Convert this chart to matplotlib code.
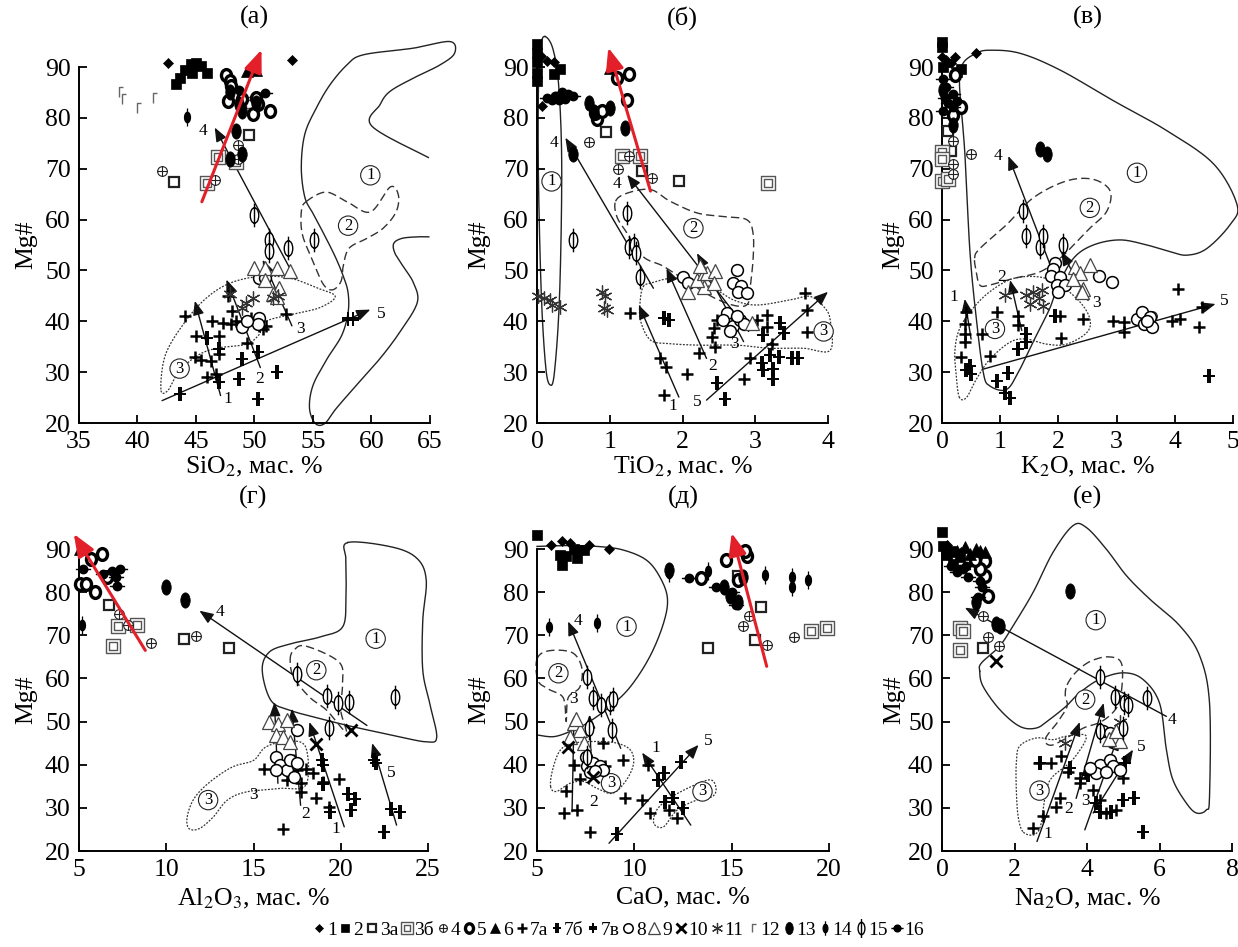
import numpy as np
import matplotlib
matplotlib.use("Agg")
import matplotlib.pyplot as plt
from matplotlib.path import Path
from matplotlib.patches import FancyArrowPatch
from matplotlib.lines import Line2D
import matplotlib.transforms as mtransforms

plt.rcParams['font.family'] = ['Liberation Serif', 'DejaVu Serif']
plt.rcParams['mathtext.fontset'] = 'stix'

# ---------------------------------------------------------------- data
# (а) SiO2 - Mg#
PTS_SIO2 = {
    '1': [(42.6, 90.7), (53.2, 91.4)],
    '2': [(43.3, 86.6), (43.6, 87.9), (44.1, 89.5), (44.6, 90.5), (45.0, 90.8), (45.4, 90.2), (45.9, 88.9), (44.7, 88.9)],
    '12': [(38.4, 85.0), (38.7, 83.7), (40.0, 82.0), (41.3, 84.0)],
    '5': [(47.6, 88.5), (47.9, 87.3), (47.7, 83.3), (48.9, 83.7), (50.3, 82.7), (51.3, 81.4), (49.9, 80.7), (50.1, 84.0), (48.0, 86.3)],
    '6': [(49.4, 89.2), (50.1, 89.5)],
    '16': [(50.9, 84.8), (48.7, 85.5)],
    '13': [(48.4, 77.5), (47.9, 72.0), (48.9, 72.9), (48.7, 82.7), (48.9, 81.4), (47.9, 85.0), (50.1, 83.0)],
    '14': [(44.2, 80.1)],
    '3а': [(49.5, 76.6), (43.1, 67.3)],
    '3б': [(46.9, 72.3), (45.9, 67.1), (48.4, 71.3), (49.6, 82.7)],
    '4': [(42.1, 69.5), (48.6, 74.7), (46.6, 67.7), (48.6, 72.0)],
    '15': [(50.0, 60.9), (51.2, 56.0), (51.2, 53.9), (52.9, 54.4), (55.1, 56.0)],
    '9': [(50.0, 50.5), (50.9, 50.5), (51.9, 50.5), (53.0, 49.8), (52.1, 46.6), (51.6, 45.3), (51.9, 44.8), (50.9, 48.2)],
    '8': [(50.4, 48.5), (50.9, 48.5), (50.4, 40.7), (48.9, 38.8), (50.3, 39.4), (49.4, 40.1)],
    '11': [(47.9, 45.3), (48.9, 42.7), (49.9, 44.6), (49.3, 43.6), (51.6, 44.6), (52.0, 44.9)],
    '7а': [(44.1, 41.0), (45.0, 37.1), (46.4, 40.0), (47.3, 39.7), (47.0, 37.1), (48.0, 39.4), (44.9, 32.9), (45.4, 32.3),
           (46.3, 32.2), (46.7, 29.6), (47.0, 33.5), (45.9, 29.0), (49.4, 35.8), (49.7, 40.7), (50.4, 39.1), (50.7, 38.5),
           (51.0, 39.1), (48.4, 40.1), (47.7, 45.0), (48.1, 42.0), (52.7, 41.4)],
    '7б': [(48.9, 32.6), (48.7, 28.7), (50.3, 33.9), (51.9, 30.0), (50.3, 24.8), (43.6, 25.7), (47.0, 28.0), (45.9, 36.8), (47.0, 34.5)],
    '7в': [(58.0, 40.4), (58.4, 40.4)],
}
TR_SIO2 = [(47.1, 25.4, 44.9, 44.0), (50.5, 30.9, 47.6, 48.2), (53.2, 39.1, 50.7, 52.1),
           (53.0, 50.5, 46.6, 78.1), (42.1, 24.4, 59.9, 42.3)]
TRL_SIO2 = [('1', 47.7, 24.8), ('2', 50.4, 28.7), ('3', 53.9, 38.5), ('4', 45.6, 77.5), ('5', 60.8, 41.4)]
RED_SIO2 = (45.5, 63.5, 50.6, 93.4)
F1_SIO2 = [(64.86, 72.2), (60.02, 78.4), (60.73, 82.6), (61.58, 85.2), (63.57, 87.8), (65.85, 90.4), (67.1, 92.7),
           (66.7, 95.0), (63.57, 93.7), (59.3, 92.4), (57.9, 90.4), (56.45, 86.5), (55.3, 82.0), (54.3, 76.8),
           (54.0, 70.3), (54.3, 64.4), (55.0, 61.2), (55.9, 57.3), (56.9, 52.7), (57.6, 48.8), (58.0, 45.6),
           (58.0, 41.7), (57.45, 37.2), (56.2, 32.6), (55.0, 27.4), (54.7, 22.9), (55.2, 19.9), (56.0, 19.9),
           (57.0, 22.9), (58.7, 27.4), (60.7, 32.6), (62.4, 37.8), (63.9, 43.6), (63.6, 47.5), (62.7, 50.8),
           (62.0, 53.4), (61.9, 55.3), (62.6, 56.3), (63.9, 56.6), (64.9, 56.6)]
F2_SIO2 = [(54.4, 63.5), (56.1, 65.4), (57.9, 63.5), (59.9, 61.5), (61.6, 66.4), (62.3, 64.8), (62.1, 61.5), (61.0, 58.3),
           (59.6, 56.3), (58.1, 54.4), (57.6, 51.1), (57.4, 47.9), (56.7, 46.2), (55.9, 47.2), (55.0, 51.8), (54.1, 57.0),
           (54.0, 61.5)]
F3_SIO2 = [(42.0, 26.6), (42.4, 33.5), (44.1, 40.0), (45.9, 44.6), (47.9, 47.5), (50.4, 48.8), (53.0, 48.5), (55.3, 46.6),
           (56.9, 44.9), (55.6, 42.7), (53.3, 41.4), (51.0, 40.0), (50.4, 37.4), (49.3, 35.5), (47.0, 34.8), (45.3, 33.5),
           (43.6, 30.3), (42.6, 26.4)]
FL_SIO2 = [('1', 59.9, 68.7), ('2', 58.0, 58.8), ('3', 43.6, 30.7)]

# (б) TiO2 - Mg#
PTS_TIO2 = {
    '2': [(0.0, 94.5), (0.0, 92.8), (0.0, 90.9), (0.0, 88.9), (0.0, 87.3), (0.32, 89.6), (0.23, 88.6)],
    '1': [(0.05, 92.2), (0.14, 91.2), (0.23, 90.9), (0.07, 82.3)],
    '16': [(0.14, 84.0), (0.25, 84.3), (0.34, 85.0), (0.43, 84.6), (0.5, 84.3), (0.3, 83.5), (0.2, 83.6), (0.38, 83.8)],
    '13': [(0.5, 72.8), (1.21, 78.0), (0.71, 83.0), (1.01, 82.0), (0.78, 81.2)],
    '5': [(0.82, 79.7), (0.8, 81.0), (0.89, 81.3), (1.1, 87.9), (1.26, 88.6), (1.24, 83.6)],
    '6': [(1.01, 89.9)],
    '3б': [(1.17, 72.5), (1.42, 72.5), (3.18, 67.2)],
    '3а': [(0.95, 77.2), (1.95, 67.5), (1.44, 69.5)],
    '4': [(0.72, 75.2), (1.12, 70.0), (1.26, 72.5), (1.58, 68.2)],
    '15': [(0.5, 56.0), (1.24, 61.3), (1.26, 54.7), (1.33, 55.0), (1.36, 53.4), (1.42, 48.8)],
    '8': [(2.01, 48.8), (2.08, 47.5), (2.75, 50.1), (2.7, 47.5), (2.81, 47.0), (2.76, 45.8), (2.88, 45.5), (2.61, 41.6),
          (2.56, 40.3), (2.7, 39.0), (2.79, 40.3), (2.65, 38.0), (2.85, 39.5), (2.75, 41.0)],
    '9': [(2.08, 45.8), (2.29, 46.8), (2.2, 48.1), (2.29, 49.5), (2.33, 49.5), (2.45, 49.8), (2.43, 47.5), (2.24, 50.8), (2.95, 39.6)],
    '11': [(0.02, 44.9), (0.09, 44.5), (0.18, 44.2), (0.2, 43.2), (0.32, 42.9), (0.89, 45.8), (0.94, 44.9), (0.92, 42.6), (0.96, 42.2)],
    '7а': [(1.28, 41.6), (1.69, 32.7), (1.78, 31.0), (1.74, 25.5), (2.06, 29.7), (2.22, 33.7), (2.43, 38.6), (2.4, 37.0),
           (2.45, 35.0), (2.47, 40.3), (3.02, 40.3), (3.16, 41.2), (3.16, 38.9), (2.93, 32.7), (2.84, 28.7), (3.71, 37.9),
           (3.71, 42.2), (3.68, 45.5), (3.23, 35.6)],
    '7б': [(1.74, 40.6), (1.81, 40.3), (2.47, 27.8), (2.59, 24.8), (3.09, 31.7), (3.11, 30.4), (3.25, 30.7), (3.25, 28.7),
           (3.2, 33.4), (3.32, 33.0), (3.34, 39.6), (3.39, 37.6), (3.5, 32.7), (3.59, 32.7), (3.11, 37.3)],
}
TR_TIO2 = [(1.95, 25.1, 1.4, 43.2), (2.33, 32.7, 1.78, 50.4), (2.84, 36.0, 2.2, 53.4),
           (2.91, 38.0, 1.24, 68.8), (1.6, 46.5, 0.39, 76.1), (2.33, 24.5, 4.0, 45.8)]
TRL_TIO2 = [('1', 1.87, 23.3), ('2', 2.42, 31.3), ('3', 2.72, 35.6), ('4', 1.1, 66.9), ('4', 0.23, 75.1), ('5', 2.2, 24.2)]
RED_TIO2 = (1.56, 65.6, 0.98, 93.8)
F1_TIO2 = [(0.11, 96.0), (0.22, 93.5), (0.3, 86.0), (0.34, 70.0), (0.31, 45.0), (0.24, 30.0), (0.18, 27.5), (0.12, 31.0),
           (0.06, 45.0), (0.02, 68.0), (0.02, 86.0), (0.05, 94.0)]
F2_TIO2 = [(1.08, 63.6), (1.24, 65.2), (1.56, 65.9), (1.83, 63.6), (2.2, 61.3), (2.56, 60.6), (2.88, 60.0), (2.97, 57.3),
           (2.97, 52.1), (2.93, 46.8), (2.9, 43.5), (2.75, 43.0), (2.45, 44.5), (2.1, 47.5), (1.74, 50.8), (1.46, 52.7),
           (1.24, 57.3), (1.1, 60.5)]
F3_TIO2 = [(1.46, 46.8), (1.56, 47.5), (1.92, 48.5), (2.38, 46.8), (2.7, 44.2), (3.02, 43.2), (3.48, 44.2), (3.75, 44.9),
           (3.94, 42.9), (4.03, 40.3), (4.03, 34.3), (3.66, 34.7), (3.2, 34.7), (2.75, 35.3), (2.24, 35.3), (1.83, 35.6),
           (1.56, 36.3), (1.42, 40.3), (1.42, 44.2)]
FL_TIO2 = [('1', 0.2, 67.5), ('2', 2.15, 58.3), ('3', 3.94, 38.0)]

# (в) K2O - Mg#
PTS_K2O = {
    '2': [(0.0, 95.0), (0.0, 94.0), (0.02, 90.0), (0.33, 89.7), (0.25, 89.0)],
    '1': [(0.22, 92.0), (0.07, 91.3), (0.0, 92.0), (0.59, 92.7), (0.16, 90.7)],
    '16': [(0.02, 87.7), (0.07, 86.0), (0.05, 84.0), (0.02, 81.4), (0.19, 84.7), (0.25, 83.4), (0.19, 82.1), (0.1, 83.0)],
    '5': [(0.33, 82.1), (0.22, 88.4), (0.19, 80.5)],
    '13': [(1.68, 73.8), (1.8, 72.8), (0.19, 78.5), (0.02, 85.5)],
    '3б': [(0.0, 73.2), (0.0, 71.9), (0.0, 67.6), (0.1, 67.9)],
    '3а': [(0.1, 77.5), (0.16, 73.5)],
    '4': [(0.19, 75.5), (0.5, 72.8), (0.19, 70.9), (0.19, 68.9), (3.61, 41.1)],
    '15': [(1.39, 61.6), (1.44, 56.7), (1.68, 54.7), (1.74, 56.7), (2.08, 55.0)],
    '8': [(1.94, 51.4), (1.9, 50.3), (1.87, 49.0), (2.03, 48.7), (1.97, 47.1), (2.11, 47.1), (2.0, 45.8), (2.69, 49.0),
          (2.92, 47.7), (3.35, 40.5), (3.44, 41.8), (3.47, 39.5), (3.58, 40.8), (3.61, 38.8), (3.52, 40.0)],
    '9': [(2.28, 50.7), (2.37, 49.4), (2.54, 51.0), (2.25, 48.4), (2.42, 46.4), (2.4, 45.8)],
    '11': [(1.08, 45.1), (1.45, 45.1), (1.57, 45.8), (1.51, 43.4), (1.71, 46.1), (1.74, 43.1), (1.66, 44.5)],
    '7а': [(0.42, 41.8), (0.39, 39.5), (0.39, 37.5), (0.39, 35.9), (0.33, 32.9), (0.68, 37.5), (0.94, 41.8), (0.82, 33.2),
           (1.3, 41.1), (1.3, 39.2), (2.03, 41.1), (2.05, 36.8), (2.43, 40.5), (2.94, 40.1), (3.12, 39.8), (3.12, 37.8),
           (3.95, 40.1), (4.09, 40.5), (4.41, 38.8), (4.47, 42.8), (4.06, 46.4)],
    '7б': [(0.48, 31.2), (0.5, 29.6), (0.42, 30.5), (0.94, 28.3), (1.14, 29.9), (1.08, 25.9), (1.17, 25.0), (1.3, 34.5),
           (1.45, 37.5), (1.45, 35.9), (4.58, 29.2), (1.94, 41.1)],
}
TR_K2O = [(0.5, 36.5, 0.39, 44.4), (1.37, 38.2, 1.17, 48.1), (2.51, 44.1, 2.05, 53.7),
          (2.06, 45.1, 1.14, 72.5), (0.71, 30.6, 4.7, 43.4)]
TRL_K2O = [('1', 0.2, 44.7), ('2', 1.02, 48.8), ('3', 2.65, 43.6), ('4', 0.97, 72.5), ('5', 4.85, 44.0)]
RED_K2O = None
F1_K2O = [(0.59, 92.7), (0.82, 93.3), (1.34, 92.7), (2.03, 89.4), (2.94, 83.4), (3.86, 77.5), (4.67, 70.9), (5.07, 62.9),
          (4.95, 59.0), (4.55, 54.3), (4.21, 53.0), (3.92, 53.7), (3.52, 55.0), (3.06, 56.0), (2.6, 55.0), (2.26, 52.4),
          (2.0, 47.1), (1.85, 42.5), (1.62, 37.2), (1.34, 30.6), (1.11, 26.6), (0.82, 27.3), (0.71, 29.9), (0.59, 40.5),
          (0.48, 53.7), (0.39, 73.5), (0.3, 86.7), (0.36, 90.7)]
F2_K2O = [(0.56, 52.4), (0.65, 54.3), (1.11, 59.0), (1.57, 64.3), (2.14, 67.6), (2.6, 67.9), (2.89, 65.6), (2.83, 61.6),
          (2.54, 58.3), (2.26, 55.0), (2.03, 52.4), (1.68, 49.7), (1.22, 48.4), (0.82, 47.1), (0.65, 47.1), (0.59, 49.7)]
F3_K2O = [(0.3, 25.0), (0.25, 28.6), (0.22, 33.9), (0.3, 38.5), (0.53, 42.5), (0.82, 45.8), (1.22, 48.4), (1.68, 48.7),
          (2.03, 47.1), (2.37, 43.8), (2.54, 40.5), (2.49, 37.8), (2.14, 35.5), (1.8, 35.5), (1.45, 36.5), (1.17, 35.9),
          (0.82, 32.5), (0.59, 28.6), (0.42, 25.0)]
FL_K2O = [('1', 3.35, 69.2), ('2', 2.54, 62.3), ('3', 0.91, 38.5)]

# (г) Al2O3 - Mg#
PTS_AL2O3 = {
    '6': [(5.06, 90.0)],
    '5': [(6.3, 88.9), (5.7, 87.7), (5.9, 80.0), (5.06, 81.9), (5.4, 81.9), (6.6, 83.5)],
    '16': [(5.25, 85.4), (6.9, 85.0), (7.35, 85.4), (6.4, 84.2), (7.2, 81.5), (7.1, 83.5)],
    '13': [(10.0, 81.1), (11.07, 78.1)],
    '14': [(5.2, 72.3)],
    '3а': [(6.7, 77.0), (11.0, 69.2), (13.6, 67.1)],
    '3б': [(7.25, 72.1), (8.3, 72.4), (6.97, 67.5)],
    '4': [(7.3, 75.0), (9.1, 68.2), (11.7, 69.8), (7.8, 72.5)],
    '15': [(17.5, 61.1), (19.2, 56.0), (19.85, 54.2), (20.5, 54.5), (23.1, 55.7), (19.3, 48.5)],
    '10': [(20.6, 48.1), (18.6, 44.9)],
    '9': [(15.9, 49.9), (16.4, 49.5), (16.9, 50.3), (16.3, 46.8), (16.7, 46.4), (17.1, 45.3)],
    '8': [(17.5, 48.0), (16.3, 41.8), (16.5, 39.9), (16.9, 38.7), (17.3, 37.2), (17.1, 41.0), (16.3, 38.7), (17.5, 40.5)],
    '7а': [(15.6, 38.9), (17.7, 35.7), (17.7, 33.7), (18.4, 38.0), (19.0, 36.0), (19.3, 30.3), (18.6, 32.2), (19.9, 36.8),
           (16.7, 25.2), (17.3, 41.0), (17.5, 38.7), (18.0, 39.1), (16.9, 36.5)],
    '7б': [(18.9, 41.0), (19.0, 40.0), (19.4, 29.1), (20.4, 33.3), (20.8, 32.1), (20.6, 29.5), (21.9, 41.0), (22.0, 40.3),
           (22.9, 29.7), (23.4, 29.1), (22.5, 24.5), (19.0, 35.5)],
}
TR_AL2O3 = [(20.2, 25.6, 18.2, 49.9), (17.7, 30.6, 17.2, 53.0), (16.4, 35.7, 16.2, 54.5),
            (21.5, 49.1, 11.9, 75.7), (23.2, 26.0, 21.8, 45.0)]
TRL_AL2O3 = [('1', 19.7, 25.2), ('2', 18.0, 28.5), ('3', 15.0, 33.0), ('4', 13.1, 75.5), ('5', 22.9, 38.0)]
RED_AL2O3 = (8.8, 66.5, 4.7, 93.5)
F1_AL2O3 = [(20.4, 91.5), (23.0, 90.4), (24.4, 87.7), (24.9, 82.7), (24.7, 73.4), (24.7, 61.9), (25.1, 54.2), (25.5, 46.4),
            (24.9, 45.3), (23.0, 46.8), (20.7, 48.8), (18.8, 50.7), (17.1, 52.6), (16.0, 54.9), (15.5, 61.9), (15.9, 66.1),
            (17.1, 68.0), (18.8, 69.6), (20.1, 71.9), (20.3, 78.8), (20.3, 87.3)]
F2_AL2O3 = [(17.1, 64.2), (17.3, 66.5), (18.0, 67.5), (19.9, 63.8), (20.1, 58.8), (20.0, 52.6), (20.3, 47.6), (19.2, 52.6),
            (18.2, 55.7), (17.3, 60.3)]
F3_AL2O3 = [(11.2, 27.9), (11.6, 32.2), (12.5, 36.0), (13.8, 39.5), (15.0, 41.0), (15.7, 44.1), (17.0, 45.5), (18.0, 44.0),
            (18.0, 35.3), (16.5, 34.5), (14.6, 33.7), (13.5, 31.8), (12.7, 27.9), (11.9, 25.2), (11.3, 25.2)]
FL_AL2O3 = [('1', 22.0, 69.2), ('2', 18.6, 61.9), ('3', 12.4, 31.8)]

# (д) CaO - Mg#
PTS_CAO = {
    '2': [(5.0, 93.3), (6.3, 86.4), (6.5, 88.3), (7.05, 87.9), (7.4, 89.8), (6.2, 88.7), (6.9, 90.0)],
    '1': [(5.7, 91.0), (6.3, 91.8), (6.7, 91.4), (7.1, 89.5), (7.65, 91.0), (8.7, 90.1)],
    '14': [(5.6, 72.0), (8.1, 72.8), (11.8, 84.4), (13.8, 84.8), (16.7, 84.0), (18.1, 83.6), (18.9, 82.9), (18.1, 81.3)],
    '13': [(15.3, 77.8), (11.8, 85.2), (15.6, 83.6), (14.9, 79.0), (14.6, 81.3)],
    '16': [(12.8, 83.3), (14.2, 81.3), (15.0, 80.0), (15.2, 77.1)],
    '5': [(13.4, 83.3), (14.7, 87.5), (15.3, 82.9), (15.8, 88.4), (15.7, 89.5)],
    '6': [(15.3, 90.1)],
    '3а': [(15.3, 83.7), (16.5, 76.5), (13.8, 67.0), (16.2, 68.9)],
    '3б': [(19.1, 71.0), (19.9, 71.7)],
    '4': [(15.9, 74.4), (15.6, 72.2), (16.8, 67.8), (18.2, 69.6)],
    '15': [(7.56, 60.4), (7.9, 55.4), (8.3, 53.9), (8.76, 54.3), (8.9, 55.2), (8.86, 48.1), (7.65, 48.5), (7.56, 41.9)],
    '9': [(6.9, 49.6), (7.2, 48.1), (7.4, 45.0), (6.7, 46.5), (7.0, 50.5)],
    '10': [(6.6, 44.2), (7.9, 37.2)],
    '8': [(7.5, 41.9), (7.56, 39.6), (7.9, 40.3), (8.25, 39.6), (8.4, 38.8), (7.7, 38.4), (8.0, 38.6)],
    '7а': [(8.4, 45.0), (9.4, 41.0), (8.5, 39.6), (6.9, 40.0), (6.5, 33.8), (7.05, 29.5), (6.4, 28.9), (7.7, 24.5),
           (7.2, 36.6), (9.5, 32.2), (10.4, 31.8), (10.8, 28.7), (10.7, 40.0), (12.2, 27.6), (11.8, 29.5)],
    '7б': [(9.1, 23.9), (11.2, 36.5), (11.5, 38.0), (12.0, 32.2), (12.5, 29.9), (12.4, 40.7), (11.6, 31.4)],
}
TR_CAO = [(12.9, 26.0, 10.4, 42.8), (6.8, 29.1, 6.9, 51.2), (7.8, 38.5, 7.7, 51.6),
          (9.3, 43.8, 6.6, 73.2), (8.7, 21.8, 13.3, 44.6)]
TRL_CAO = [('1', 11.1, 43.8), ('2', 7.9, 31.3), ('3', 6.9, 55.2), ('4', 7.1, 73.4), ('5', 13.8, 45.5)]
RED_CAO = (16.8, 62.8, 15.0, 93.7)
F1_CAO = [(5.0, 46.9), (5.85, 46.5), (6.7, 47.7), (7.56, 49.6), (8.76, 53.5), (9.8, 58.1), (10.8, 65.1), (11.5, 72.8),
          (11.7, 78.6), (11.3, 83.6), (10.6, 87.5), (9.4, 89.8), (8.1, 90.6), (6.7, 90.8), (5.0, 90.6)]
F2_CAO = [(5.0, 64.5), (5.6, 66.4), (6.8, 66.0), (7.3, 62.5), (7.2, 58.0), (6.6, 55.5), (6.5, 50.0), (6.35, 55.5),
          (5.6, 57.5), (5.05, 59.5)]
F3_CAO = [(5.7, 34.9), (5.8, 38.8), (6.2, 43.4), (6.9, 45.0), (8.1, 45.4), (9.1, 45.0), (9.8, 43.4), (9.96, 40.3),
          (9.6, 36.5), (8.9, 33.4), (8.1, 34.5), (7.4, 36.1), (6.7, 35.7), (6.0, 33.8)]
F3B_CAO = [(11.0, 26.4), (11.15, 29.5), (11.8, 32.2), (12.9, 34.9), (13.9, 36.5), (14.2, 34.5), (14.0, 32.6), (13.2, 31.8),
           (12.2, 29.5), (11.5, 25.6)]
FL_CAO = [('1', 9.6, 72.0), ('2', 6.1, 61.2), ('3', 8.8, 35.7), ('3', 13.5, 33.8)]

# (е) Na2O - Mg#
PTS_NA2O = {
    '2': [(0.0, 93.9), (0.03, 90.7), (0.15, 88.5), (0.3, 86.5), (0.49, 88.1), (0.25, 89.5)],
    '6': [(0.4, 89.6), (0.63, 90.4), (0.76, 88.8), (0.95, 90.0), (1.04, 89.6), (1.18, 89.2)],
    '1': [(0.53, 89.2), (0.15, 91.0)],
    '16': [(0.26, 86.1), (0.4, 84.6), (0.58, 85.3), (0.72, 83.4), (1.04, 82.6), (1.09, 81.1), (1.0, 78.8), (0.67, 86.1), (0.49, 85.3)],
    '13': [(3.54, 80.2), (1.59, 72.2), (1.5, 72.6), (0.95, 77.6)],
    '5': [(1.18, 87.3), (1.18, 83.8), (1.27, 79.1), (1.04, 85.3), (0.9, 87.5)],
    '3б': [(0.49, 71.8), (0.58, 71.0), (0.49, 66.7)],
    '3а': [(1.13, 67.0)],
    '4': [(1.13, 74.5), (1.27, 69.5), (1.56, 67.5)],
    '10': [(1.48, 64.0)],
    '15': [(4.35, 60.4), (4.78, 55.7), (5.02, 54.3), (5.13, 53.9), (5.66, 55.5), (4.35, 47.8), (5.0, 48.5)],
    '8': [(4.44, 47.8), (4.63, 47.4), (4.35, 40.0), (4.63, 41.2), (4.72, 39.6), (4.9, 38.8), (4.26, 38.0), (4.07, 39.2), (4.53, 38.4)],
    '9': [(4.72, 46.6), (4.9, 45.4), (4.6, 46.0), (4.8, 47.8)],
    '11': [(3.38, 45.0), (4.9, 50.0)],
    '7а': [(2.68, 40.4), (3.02, 40.4), (3.29, 42.0), (3.25, 32.2), (3.15, 30.3), (2.79, 28.0), (2.51, 25.3), (3.48, 38.4),
           (3.94, 38.0), (3.8, 35.7), (4.17, 34.2), (4.35, 31.9), (4.53, 28.8), (4.81, 29.6), (5.0, 36.9), (3.8, 36.9)],
    '7б': [(2.7, 40.4), (3.52, 39.2), (4.03, 37.7), (4.26, 31.1), (4.35, 29.1), (4.67, 29.1), (5.0, 31.9), (5.31, 32.2),
           (5.54, 24.3), (5.04, 40.4)],
}
TR_NA2O = [(2.62, 22.2, 3.8, 49.9), (3.7, 32.2, 4.46, 54.3), (3.94, 24.9, 4.86, 46.6),
           (6.19, 51.2, 0.63, 76.4), (4.17, 28.8, 5.27, 43.5)]
TRL_NA2O = [('1', 2.92, 24.0), ('2', 3.49, 29.8), ('3', 3.96, 31.6), ('4', 6.35, 50.3), ('5', 5.5, 44.2)]
RED_NA2O = None
F1_NA2O = [(1.04, 61.7), (1.09, 63.6), (1.59, 67.5), (1.96, 72.2), (2.51, 79.9), (3.06, 89.2), (3.61, 95.4), (3.98, 95.0),
           (4.53, 90.0), (5.09, 83.8), (5.73, 78.4), (6.56, 72.2), (7.11, 65.2), (7.38, 54.3), (7.38, 32.6), (7.29, 29.5),
           (7.02, 28.8), (6.74, 31.1), (6.37, 36.5), (6.19, 43.5), (6.0, 54.3), (5.54, 59.8), (5.0, 61.3), (4.35, 59.8),
           (3.8, 56.7), (3.43, 53.6), (2.97, 50.5), (2.6, 48.5), (2.14, 48.9), (1.59, 52.8), (1.13, 58.2)]
F2_NA2O = [(3.45, 58.5), (3.7, 61.5), (4.1, 64.0), (4.6, 65.0), (4.95, 63.5), (4.95, 57.0), (4.8, 53.0), (4.4, 50.0),
           (3.9, 48.5), (3.4, 46.0), (3.0, 44.5), (2.85, 46.0), (3.2, 50.0), (3.45, 53.5), (3.4, 56.0)]
F3_NA2O = [(2.23, 24.5), (2.1, 28.0), (2.05, 34.2), (2.05, 40.4), (2.14, 44.3), (2.6, 46.2), (3.06, 45.8), (3.43, 46.6),
           (3.98, 46.6), (3.61, 41.2), (3.06, 37.3), (2.88, 34.2), (2.79, 29.5), (2.7, 25.3), (2.51, 23.7)]
FL_NA2O = [('1', 4.24, 73.5), ('2', 3.95, 55.1), ('3', 2.69, 34.0)]

LEGEND_KEYS = ['1', '2', '3а', '3б', '4', '5', '6', '7а', '7б', '7в', '8', '9', '10', '11', '12', '13', '14', '15', '16']
MG_TICKS = [20, 30, 40, 50, 60, 70, 80, 90]


# ---------------------------------------------------------------- markers
def seg(pts):
    return Path(pts, [Path.MOVETO] + [Path.LINETO] * (len(pts) - 1))


def ellipse(sx, sy):
    return Path.unit_circle().transformed(mtransforms.Affine2D().scale(sx, sy))


def square(s):
    return Path([(-s, -s), (s, -s), (s, s), (-s, s), (-s, -s)],
                [Path.MOVETO, Path.LINETO, Path.LINETO, Path.LINETO, Path.CLOSEPOLY])


M_ELL = ellipse(0.62, 1.0)
M_BOLD = ellipse(0.85, 1.0)
M_15 = Path.make_compound_path(ellipse(0.36, 0.65), seg([(0, -1), (0, 1)]))
M_14 = Path.make_compound_path(ellipse(0.33, 0.58), seg([(0, -1), (0, 1)]))
M_16 = Path.make_compound_path(ellipse(0.55, 0.55), seg([(-1, 0), (1, 0)]))
M_OPLUS = Path.make_compound_path(Path.unit_circle(), seg([(-1, 0), (1, 0)]), seg([(0, -1), (0, 1)]))
M_DSQ = Path.make_compound_path(square(1.0), square(0.55))
M_7B = Path.make_compound_path(seg([(-0.15, -1), (-0.15, 1)]), seg([(0.15, -1), (0.15, 1)]), seg([(-0.85, 0), (0.85, 0)]))
M_7V = Path.make_compound_path(seg([(0, -1), (0, 1)]), seg([(-0.85, 0.17), (0.85, 0.17)]), seg([(-0.85, -0.17), (0.85, -0.17)]))
M_12 = seg([(0, -1), (0, 1), (0.9, 1)])

STY = {
    '1': dict(marker='D', ms=5, mfc='k', mec='k', mew=0.5),
    '2': dict(marker='s', ms=7.5, mfc='k', mec='k', mew=0.5),
    '3а': dict(marker='s', ms=7.5, mfc='white', mec='#222', mew=1.6),
    '3б': dict(marker=M_DSQ, ms=10, mfc='white', mec='#555', mew=1.0),
    '4': dict(marker=M_OPLUS, ms=7, mfc='white', mec='#222', mew=0.8),
    '5': dict(marker=M_BOLD, ms=8.5, mfc='white', mec='k', mew=2.4),
    '6': dict(marker='^', ms=9, mfc='k', mec='k', mew=0.5),
    '7а': dict(marker='+', ms=9, mec='k', mew=1.8),
    '7б': dict(marker=M_7B, ms=9.5, mfc='k', mec='k', mew=1.4),
    '7в': dict(marker=M_7V, ms=9.5, mfc='k', mec='k', mew=1.4),
    '8': dict(marker='o', ms=8.5, mfc='white', mec='k', mew=1.1),
    '9': dict(marker='^', ms=10, mfc='white', mec='#444', mew=0.9),
    '10': dict(marker='x', ms=8.5, mec='k', mew=2.0),
    '11': dict(marker=(6, 2, 0), ms=10, mec='#333', mew=0.9),
    '12': dict(marker=M_12, ms=7, mfc='none', mec='#666', mew=1.0),
    '13': dict(marker=M_ELL, ms=11, mfc='k', mec='k', mew=0.5),
    '14': dict(marker=M_14, ms=13, mfc='k', mec='k', mew=0.9),
    '15': dict(marker=M_15, ms=17, mfc='white', mec='k', mew=1.0),
    '16': dict(marker=M_16, ms=11, mfc='k', mec='k', mew=1.0),
}


def smooth(pts, closed=True, n=14):
    P = np.asarray(pts, float)
    P = np.vstack([P[-1], P, P[0], P[1]]) if closed else np.vstack([P[0], P, P[-1]])
    out = []
    t = np.linspace(0, 1, n, endpoint=False)[:, None]
    for i in range(1, len(P) - 2):
        p0, p1, p2, p3 = P[i - 1], P[i], P[i + 1], P[i + 2]
        out.append(0.5 * (2 * p1 + (-p0 + p2) * t + (2 * p0 - 5 * p1 + 4 * p2 - p3) * t ** 2
                          + (-p0 + 3 * p1 - 3 * p2 + p3) * t ** 3))
    out.append(P[-2][None])
    return np.vstack(out)


def field(ax, pts, style, closed=True):
    c = smooth(pts, closed)
    kw = {'-': dict(ls='-', lw=1.0, color='#222'),
          '--': dict(ls=(0, (6, 3)), lw=1.0, color='#333'),
          ':': dict(ls=(0, (1.5, 1.2)), lw=0.9, color='#333')}[style]
    ax.plot(c[:, 0], c[:, 1], clip_on=False, zorder=1, **kw)


def panel(ax, pts, fields, flabels, trends, tlabels, red, xlim, xticks, xlabel, title, bottom, ylab_x):
    ax.set_xlim(*xlim)
    ax.set_ylim(20, 90)
    ax.set_xticks(xticks)
    ax.set_yticks(MG_TICKS)
    for s in ('top', 'right'):
        ax.spines[s].set_visible(False)
    for s in ('left', 'bottom'):
        ax.spines[s].set_linewidth(1.4)
    ax.tick_params(direction='in', length=6, width=1.3, labelsize=18.5, pad=6)
    ax.set_facecolor('none')
    for f, style, closed in fields:
        field(ax, f, style, closed)
    for lab, x, y in flabels:
        ax.text(x, y, lab, ha='center', va='center', fontsize=12, zorder=2,
                bbox=dict(boxstyle='circle,pad=0.1', fc='white', ec='#222', lw=0.8))
    for x0, y0, x1, y1 in trends:
        ax.add_patch(FancyArrowPatch((x0, y0), (x1, y1), arrowstyle='-|>,head_length=0.7,head_width=0.28',
                                     mutation_scale=12, lw=1.0, color='#111', shrinkA=0, shrinkB=0,
                                     zorder=2, clip_on=False))
    for lab, x, y in tlabels:
        ax.text(x, y, lab, ha='center', va='center', fontsize=12.5, zorder=2)
    for key in LEGEND_KEYS:
        if key in pts:
            xy = np.asarray(pts[key])
            ax.plot(xy[:, 0], xy[:, 1], ls='none', clip_on=False, zorder=3, **STY[key])
    if red is not None:
        ax.add_patch(FancyArrowPatch(red[:2], red[2:], arrowstyle='-|>,head_length=0.8,head_width=0.32',
                                     mutation_scale=17, lw=2.2, color='#e3202a', shrinkA=0, shrinkB=0,
                                     zorder=5, clip_on=False))
    ax.set_xlabel(xlabel, fontsize=18.5)
    ax.xaxis.set_label_coords(0.5, -0.119 if bottom else -0.09)
    ax.set_ylabel('Mg#', fontsize=18.5)
    ax.yaxis.set_label_coords(ylab_x, 0.5)
    ax.text(0.5, 1.172 if bottom else 1.138, title, transform=ax.transAxes, ha='center', va='center',
            fontsize=19)


fig = plt.figure(figsize=(12.38, 9.47), dpi=100)
W, H = 1238.0, 947.0

# axes rectangles (pixels: left, right, y of Mg#20, y of Mg#90)
boxes = [(79, 430, 423, 67), (537, 828, 423, 67), (942, 1233, 423, 67),
         (79, 428, 851, 549), (537, 829, 851, 549), (942, 1232, 851, 549)]
axes = [fig.add_axes([l / W, (H - b) / H, (r - l) / W, (b - t) / H]) for l, r, b, t in boxes]

panel(axes[0], PTS_SIO2, [(F1_SIO2, '-', False), (F2_SIO2, '--', True), (F3_SIO2, ':', True)], FL_SIO2,
      TR_SIO2, TRL_SIO2, RED_SIO2, (35, 65), [35, 40, 45, 50, 55, 60, 65], 'SiO$_2$, мас. %', '(а)', False, -0.12)
panel(axes[1], PTS_TIO2, [(F1_TIO2, '-', True), (F2_TIO2, '--', True), (F3_TIO2, ':', True)], FL_TIO2,
      TR_TIO2, TRL_TIO2, RED_TIO2, (0, 4), [0, 1, 2, 3, 4], 'TiO$_2$, мас. %', '(б)', False, -0.16)
panel(axes[2], PTS_K2O, [(F1_K2O, '-', True), (F2_K2O, '--', True), (F3_K2O, ':', True)], FL_K2O,
      TR_K2O, TRL_K2O, RED_K2O, (0, 5), [0, 1, 2, 3, 4, 5], 'K$_2$O, мас. %', '(в)', False, -0.128)
panel(axes[3], PTS_AL2O3, [(F1_AL2O3, '-', True), (F2_AL2O3, '--', True), (F3_AL2O3, ':', True)], FL_AL2O3,
      TR_AL2O3, TRL_AL2O3, RED_AL2O3, (5, 25), [5, 10, 15, 20, 25], 'Al$_2$O$_3$, мас. %', '(г)', True, -0.12)
panel(axes[4], PTS_CAO, [(F1_CAO, '-', False), (F2_CAO, '--', True), (F3_CAO, ':', True), (F3B_CAO, ':', True)], FL_CAO,
      TR_CAO, TRL_CAO, RED_CAO, (5, 20), [5, 10, 15, 20], 'CaO, мас. %', '(д)', True, -0.16)
panel(axes[5], PTS_NA2O, [(F1_NA2O, '-', True), (F2_NA2O, '--', True), (F3_NA2O, ':', True)], FL_NA2O,
      TR_NA2O, TRL_NA2O, RED_NA2O, (0, 8), [0, 2, 4, 6, 8], 'Na$_2$O, мас. %', '(е)', True, -0.128)

handles = [Line2D([], [], ls='none', **STY[k]) for k in LEGEND_KEYS]
fig.legend(handles, LEGEND_KEYS, loc='center', bbox_to_anchor=(0.5, 0.018), ncol=len(LEGEND_KEYS),
           frameon=False, handlelength=0.55, handletextpad=0.12, columnspacing=0.18, fontsize=14,
           borderpad=0, numpoints=1, markerscale=0.8)

fig.savefig('out.png', dpi=100)
